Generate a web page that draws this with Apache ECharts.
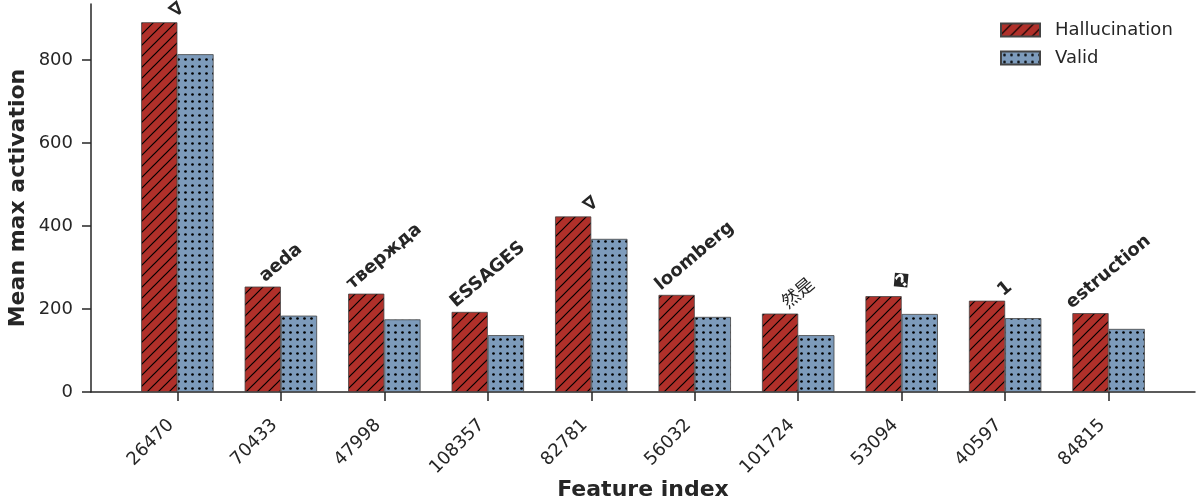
<!DOCTYPE html>
<html>
<head>
<meta charset="utf-8">
<script src="https://cdn.jsdelivr.net/npm/echarts@6/dist/echarts.min.js"></script>
<style>html,body{margin:0;padding:0;background:#fff}#c{width:1198px;height:504px}</style>
</head>
<body>
<div id="c"></div>
<script>
const categories = ['26470','70433','47998','108357','82781','56032','101724','53094','40597','84815'];
const hallucination = [891, 254, 237, 193, 423, 234, 189, 231, 220, 190];
const valid = [814, 184, 175, 137, 369, 181, 137, 188, 178, 152];
const tokens = ['\u2207','aeda','твержда','ESSAGES','\u2207','loomberg','然是','\uFFFD','1','estruction'];
const yTicks = [0, 200, 400, 600, 800];

const FONT = "'DejaVu Sans', 'Noto Sans CJK SC', sans-serif";
const TXT = '#262626';
const FS = 18;

function hatchTile() {
  const s = 11, c = document.createElement('canvas');
  c.width = s; c.height = s;
  const g = c.getContext('2d');
  g.fillStyle = '#b0302a'; g.fillRect(0, 0, s, s);
  g.strokeStyle = '#000'; g.lineWidth = 1.2;
  g.beginPath();
  g.moveTo(-1, s + 1); g.lineTo(s + 1, -1);
  g.moveTo(-1, 1); g.lineTo(1, -1);
  g.moveTo(s - 1, s + 1); g.lineTo(s + 1, s - 1);
  g.stroke();
  return c;
}
function dotTile() {
  const s = 7, c = document.createElement('canvas');
  c.width = s; c.height = s;
  const g = c.getContext('2d');
  g.fillStyle = '#7d9bbb'; g.fillRect(0, 0, s, s);
  g.fillStyle = '#000';
  g.beginPath(); g.arc(3.5, 3.5, 1.35, 0, Math.PI * 2); g.fill();
  return c;
}

// Place each rotated token so its (rotated) text box is centred on the category
// and sits just above the hallucination bar.
const ANG = 40 * Math.PI / 180, CA = Math.cos(ANG), SA = Math.sin(ANG);
const mc = document.createElement('canvas').getContext('2d');
function labelOffset(t, bold) {
  mc.font = (bold ? 'bold ' : '') + FS + 'px ' + FONT;
  mc.textBaseline = 'alphabetic';
  const m1 = mc.measureText(t);
  mc.textBaseline = 'middle';
  const m2 = mc.measureText(t);
  const delta = m1.actualBoundingBoxAscent - m2.actualBoundingBoxAscent; // baseline below middle
  const w = m1.width;
  const top = Math.max(m1.actualBoundingBoxAscent, 0.76 * FS);
  const pts = [];
  for (const x of [-w / 2, w / 2]) for (const y of [delta - top, delta + 0.236 * FS]) {
    pts.push([x * CA + y * SA, -x * SA + y * CA]);
  }
  const xs = pts.map(p => p[0]), ys = pts.map(p => p[1]);
  const midX = (Math.min(...xs) + Math.max(...xs)) / 2;
  const maxY = Math.max(...ys);
  const dx = 18 - midX, dy = -1 - maxY;
  // label offset is applied in the rotated frame: rotate it back
  return [dx * CA - dy * SA, dx * SA + dy * CA];
}

const hData = hallucination.map((v, i) => {
  const bold = tokens[i] !== '然是';
  return {
    value: [i, v],
    label: { offset: labelOffset(tokens[i], bold), fontWeight: bold ? 'bold' : 'normal' }
  };
});
const vData = valid.map((v, i) => [i, v]);

const chart = echarts.init(document.getElementById('c'));
chart.setOption({
  animation: false,
  textStyle: { fontFamily: FONT },
  grid: { left: 91, right: 3, top: 4, bottom: 112, containLabel: false, outerBoundsMode: 'none' },
  legend: {
    orient: 'vertical', left: 1000, top: 21, padding: 0, itemWidth: 39, itemHeight: 13, itemGap: 10,
    icon: 'rect',
    textStyle: { fontSize: 18, color: TXT, fontFamily: FONT, padding: [0, 0, 0, 10] },
    data: ['Hallucination', 'Valid']
  },
  xAxis: {
    type: 'value', min: -0.835, max: 9.835,
    name: 'Feature index', nameLocation: 'middle', nameGap: 87, nameMoveOverlap: false,
    nameTextStyle: { fontSize: 22, fontWeight: 'bold', color: TXT, fontFamily: FONT },
    axisLine: { show: true, onZero: false, lineStyle: { color: TXT, width: 1.5 } },
    axisTick: { show: true, length: 9, customValues: categories.map((c, i) => i), lineStyle: { color: TXT, width: 1.5 } },
    axisLabel: { customValues: categories.map((c, i) => i), formatter: v => categories[v], rotate: 45, margin: 24,
      padding: [0, 9, 0, 0], fontSize: 18, color: TXT, fontFamily: FONT },
    splitLine: { show: false }
  },
  yAxis: {
    type: 'value', min: 0, max: 935,
    name: 'Mean max activation', nameLocation: 'middle', nameGap: 62, nameMoveOverlap: false,
    nameTextStyle: { fontSize: 22, fontWeight: 'bold', color: TXT, fontFamily: FONT },
    axisLine: { show: true, onZero: false, lineStyle: { color: TXT, width: 1.5 } },
    axisTick: { show: true, length: 9, customValues: yTicks, lineStyle: { color: TXT, width: 1.5 } },
    axisLabel: { customValues: yTicks, margin: 18, fontSize: 18, color: TXT, fontFamily: FONT },
    splitLine: { show: false }
  },
  series: [
    {
      name: 'Hallucination', type: 'bar', barWidth: '35%', barGap: '0%',
      itemStyle: { color: { image: hatchTile(), repeat: 'repeat' }, borderColor: '#444', borderWidth: 0.8 },
      label: {
        show: true, position: 'top', distance: 0, rotate: 40, align: 'center', verticalAlign: 'middle',
        formatter: p => tokens[p.dataIndex], fontSize: FS, fontWeight: 'bold', color: TXT, fontFamily: FONT
      },
      data: hData
    },
    {
      name: 'Valid', type: 'bar', barWidth: '35%', barGap: '0%',
      itemStyle: { color: { image: dotTile(), repeat: 'repeat' }, borderColor: '#444', borderWidth: 0.8 },
      data: vData
    }
  ]
});
</script>
</body>
</html>
